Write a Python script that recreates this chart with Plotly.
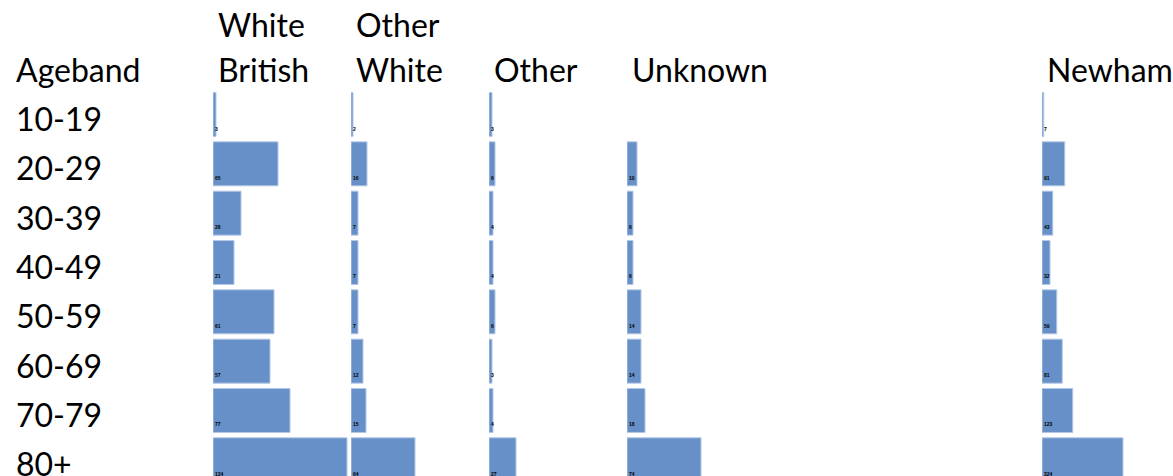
import plotly.graph_objects as go

# Age bands (rows) and ethnic groups (columns)
agebands = ["10-19", "20-29", "30-39", "40-49", "50-59", "60-69", "70-79", "80+"]

white_british = [3, 65, 28, 21, 61, 57, 77, 134]
other_white = [2, 16, 7, 7, 7, 12, 15, 64]
other = [3, 6, 4, 4, 6, 3, 4, 27]
unknown = [None, 10, 6, 6, 14, 14, 18, 74]
newham = [7, 91, 43, 32, 59, 81, 123, 324]

group_headers = [["White", "British"], ["Other", "White"], ["Other"], ["Unknown"], ["Newham"]]
group_values = [white_british, other_white, other, unknown, newham]
# full-panel value for each column (Newham uses its own, larger scale)
group_full = [138, 138, 138, 138, 552]

W, H = 1173, 476
TOP = 88
BAR_COLOR = "#6790c8"
FONT = "Lato, 'Noto Sans', sans-serif"
FONT_SIZE = 32

# left pixel edge of each column panel; each panel is 138 px wide
col_left = [213, 351, 489, 627, 1042]
col_width = 138


def py(p):
    """pixel y (from top) -> paper y"""
    return (H - p) / (H - TOP)


fig = go.Figure()
layout_axes = {}
annotations = []

for i, (vals, full, x0) in enumerate(zip(group_values, group_full, col_left)):
    ax = "x" if i == 0 else f"x{i + 1}"
    key = "xaxis" if i == 0 else f"xaxis{i + 1}"
    x1 = min(x0 + col_width, W)
    rng = full * (x1 - x0) / col_width
    fig.add_trace(go.Bar(
        x=vals, y=agebands, orientation="h",
        xaxis=ax, yaxis="y",
        marker=dict(color=BAR_COLOR, line=dict(color="#b3c8e6", width=1)),
        hoverinfo="x+y", showlegend=False,
    ))
    layout_axes[key] = dict(
        domain=[x0 / W, x1 / W], range=[0, rng],
        showgrid=False, zeroline=False, showticklabels=False, ticks="",
        showline=False, anchor="y", fixedrange=True,
    )
    # tiny value labels at the base of each bar
    for a, v in zip(agebands, vals):
        if v is None:
            continue
        annotations.append(dict(
            x=0, y=a, xref=ax, yref="y", xanchor="left", yanchor="middle",
            xshift=0, yshift=-14, text=f"<b>{v}</b>", showarrow=False,
            font=dict(size=5, color="#000000", family="Liberation Sans"),
        ))
    # column header, one annotation per line
    lines = group_headers[i]
    centers = [69.5] if len(lines) == 1 else [24.5, 69.5]
    for txt, yc in zip(lines, centers):
        annotations.append(dict(
            x=(x0 + 3) / W, y=py(yc), xref="paper", yref="paper",
            xanchor="left", yanchor="middle", text=txt, showarrow=False,
            font=dict(size=FONT_SIZE, color="#000000", family=FONT),
        ))

# row header and row labels
annotations.append(dict(
    x=14 / W, y=py(69.5), xref="paper", yref="paper", xanchor="left",
    yanchor="middle", text="Ageband", showarrow=False,
    font=dict(size=FONT_SIZE, color="#000000", family=FONT),
))
for a in agebands:
    annotations.append(dict(
        x=14 / W, y=a, xref="paper", yref="y", xanchor="left",
        yanchor="middle", yshift=-4, text=a, showarrow=False,
        font=dict(size=FONT_SIZE, color="#000000", family=FONT),
    ))

pitch = 49.33
first_center = 114.5
y_top = (TOP - first_center) / pitch
y_bot = (H - first_center) / pitch

fig.update_layout(
    width=W, height=H,
    margin=dict(l=0, r=0, t=TOP, b=0, pad=0),
    paper_bgcolor="white", plot_bgcolor="white",
    bargap=0.108,
    yaxis=dict(
        type="category", categoryorder="array", categoryarray=agebands,
        range=[y_bot, y_top], showgrid=False, zeroline=False,
        showticklabels=False, ticks="", showline=False, fixedrange=True,
    ),
    annotations=annotations,
    **layout_axes,
)

fig.write_html("out.html")
